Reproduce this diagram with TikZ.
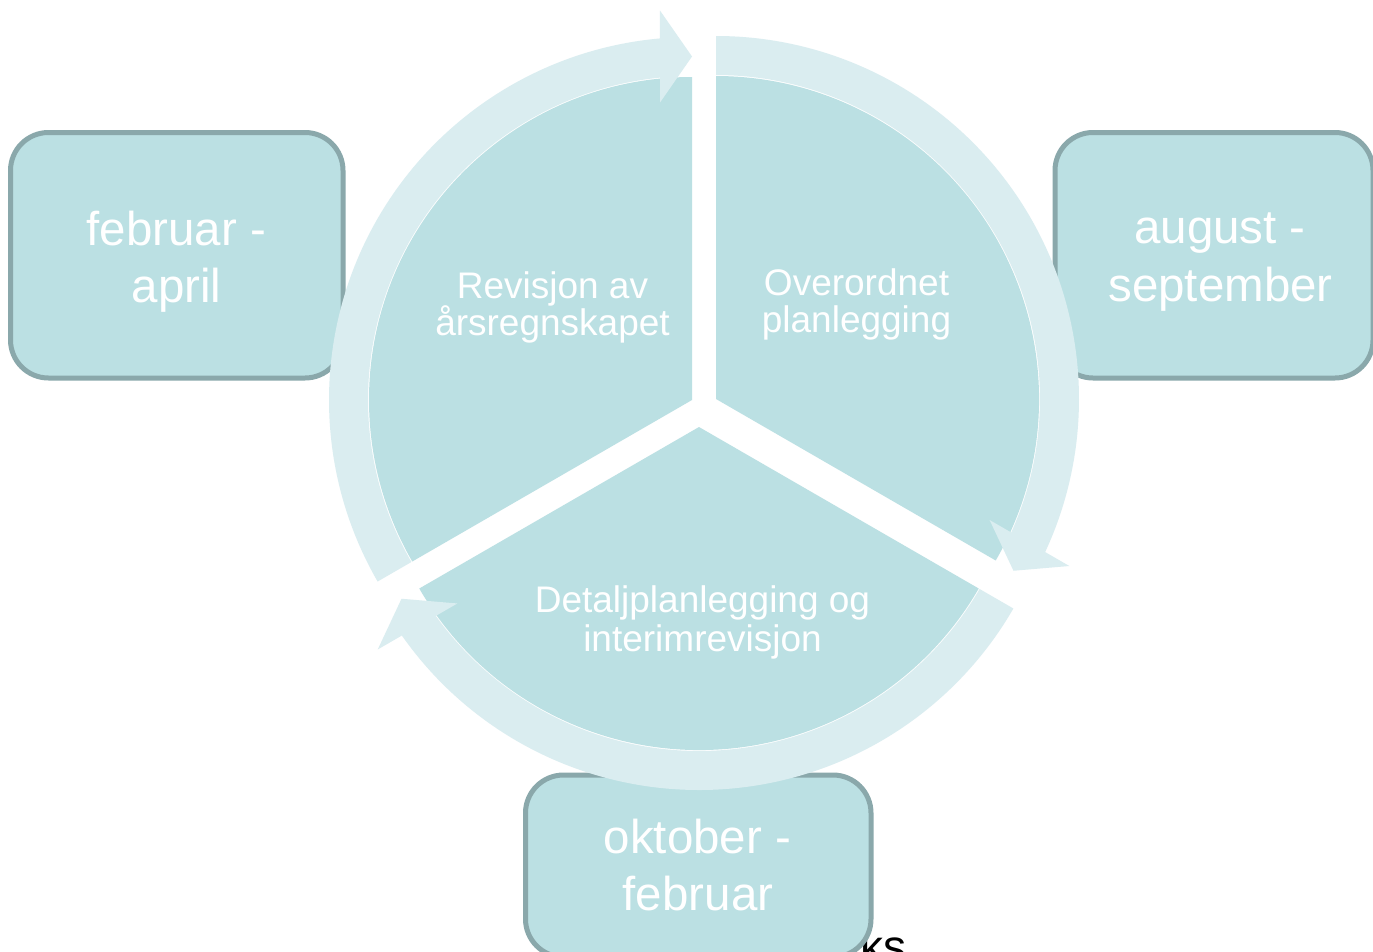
\documentclass[tikz,border=0pt]{standalone}
\usepackage{fontspec}
\setmainfont{Liberation Sans}
\definecolor{secfill}{RGB}{187,224,227}
\definecolor{ringfill}{RGB}{218,237,240}
\definecolor{boxline}{RGB}{138,168,171}
\tikzset{
  sector/.style={fill=secfill},
  ringseg/.style={fill=ringfill},
  datebox/.style={draw=boxline, line width=5pt, fill=secfill, rounded corners=38pt, inner sep=0pt},
  boxtext/.style={text=white, font=\fontsize{47.5}{57}\selectfont, inner sep=0pt, anchor=base},
  sectext/.style={text=white, font=\fontsize{37}{40}\selectfont, inner sep=0pt, anchor=base},
}
\newcommand\ringarrow[4]{%
  \begin{scope}[shift={(#1,#2)}]
    \fill[ringseg] (#3:363) arc[start angle=#3, end angle={#4+5.06}, radius=363]
      -- ({#4+4.70}:390.8) -- (#4:343.5) -- ({#4+6.14}:299.2) -- ({#4+5.67}:324)
      arc[start angle={#4+5.67}, end angle=#3, radius=324] -- cycle;
  \end{scope}}
\begin{document}
\begin{tikzpicture}[x=1pt,y=1pt]
\clip (0,0) rectangle (1373,-951);
\fill[white] (0,0) rectangle (1373,-951);
% partly hidden text
\node[font=\fontsize{46}{50}\selectfont, inner sep=0pt, anchor=base east] (ks) at (907,-962) {ks};
% date boxes
\node[datebox, minimum width=332.5pt, minimum height=245.5pt] (boxL) at (176.75,-255.25) {};
\node[datebox, minimum width=318pt, minimum height=245.5pt] (boxR) at (1214,-255.25) {};
\node[datebox, minimum width=345.5pt, minimum height=182pt] (boxB) at (698.25,-866) {};
% sectors
\fill[sector] (692,-400) -- ++(90:323) arc[start angle=90, end angle=210, radius=323] -- cycle;
\fill[sector] (716,-399) -- ++(-30:323) arc[start angle=-30, end angle=90, radius=323] -- cycle;
\fill[sector] (699,-427) -- ++(210:323) arc[start angle=210, end angle=330, radius=323] -- cycle;
% ring arrows
\ringarrow{692}{-400}{210}{90}
\ringarrow{716}{-399}{90}{-30}
\ringarrow{699}{-427}{330}{210}
% sector texts
\node[sectext] (tL1) at (552.5,-298) {Revisjon av};
\node[sectext] (tL2) at (552.5,-335) {årsregnskapet};
\node[sectext] (tR1) at (856.5,-295) {Overordnet};
\node[sectext] (tR2) at (856.5,-332) {planlegging};
\node[sectext] (tB1) at (702.5,-612) {Detaljplanlegging og};
\node[sectext] (tB2) at (702.5,-651) {interimrevisjon};
% box texts
\node[boxtext] (bL1) at (176.5,-245) {februar -};
\node[boxtext] (bL2) at (176.5,-302) {april};
\node[boxtext] (bR1) at (1220,-243) {august -};
\node[boxtext] (bR2) at (1220.5,-301) {september};
\node[boxtext] (bB1) at (697.5,-853) {oktober -};
\node[boxtext] (bB2) at (698,-910) {februar};
\end{tikzpicture}
\end{document}
